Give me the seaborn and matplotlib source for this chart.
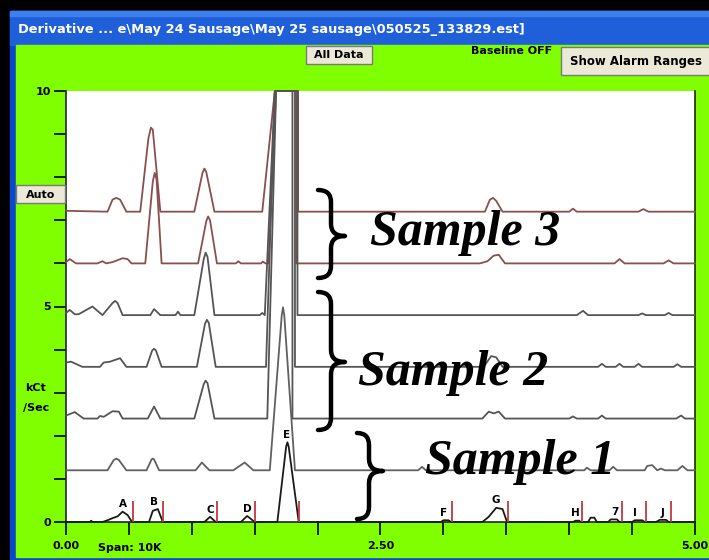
import numpy as np
import pandas as pd
import matplotlib
matplotlib.use("Agg")
import matplotlib.pyplot as plt
from matplotlib.patches import Rectangle, PathPatch
from matplotlib.path import Path
import seaborn as sns

# ---------------- data (x: time, y: kCt/Sec relative to trace baseline) ----------------
FULL_SCALE = 10.0

trace_names = ["s3_top", "s3_low", "s2_top", "s2_mid", "s2_low", "s1_top", "s1_low"]
trace_offsets = [7.2, 6.0, 4.8, 3.6, 2.4, 1.2, 0.0]

s3_top_x = [0.00, 0.01, 0.33, 0.37, 0.40, 0.43, 0.48, 0.59, 0.655, 0.675, 0.69, 0.75, 1.02, 1.085, 1.10, 1.115, 1.18,
            1.56, 1.66, 1.845, 1.845, 3.33, 3.37, 3.395, 3.42, 3.47, 4.00, 4.03, 4.06, 4.55, 4.59, 4.63, 5.00]
s3_top_y = [0.03, 0.02, 0.00, 0.28, 0.32, 0.28, 0.00, 0.00, 1.70, 1.95, 1.90, 0.00, 0.00, 0.90, 1.00, 0.92, 0.00,
            0.00, 9.0, 9.0, 0.00, 0.00, 0.28, 0.32, 0.25, 0.00, 0.00, 0.07, 0.00, 0.00, 0.06, 0.00, 0.00]

s3_low_x = [0.00, 0.03, 0.08, 0.25, 0.29, 0.32, 0.37, 0.45, 0.49, 0.52, 0.63, 0.69, 0.705, 0.72, 0.76, 1.05, 1.115,
            1.13, 1.145, 1.20, 1.35, 1.37, 1.39, 1.55, 1.565, 1.585, 1.61, 1.67, 1.83, 1.83, 3.29, 3.35, 3.40, 3.44,
            3.49, 4.36, 4.40, 4.44, 4.75, 4.79, 4.83, 5.00]
s3_low_y = [0.03, 0.10, 0.00, 0.00, 0.05, 0.00, 0.03, 0.12, 0.10, 0.00, 0.00, 1.90, 2.10, 1.95, 0.00, 0.00, 0.98,
            1.09, 1.00, 0.00, 0.00, 0.05, 0.00, 0.00, 0.04, 0.00, 0.00, 9.0, 9.0, 0.00, 0.00, 0.05, 0.18, 0.20,
            0.00, 0.00, 0.10, 0.00, 0.00, 0.07, 0.00, 0.00]

s2_top_x = [0.00, 0.03, 0.07, 0.10, 0.21, 0.29, 0.37, 0.39, 0.41, 0.45, 0.67, 0.70, 0.75, 0.87, 0.89, 0.91, 1.02,
            1.095, 1.11, 1.125, 1.18, 1.54, 1.56, 1.58, 1.66, 1.84, 1.84, 4.06, 4.11, 4.15, 4.55, 4.58, 4.61, 4.76,
            4.79, 4.82, 5.00]
s2_top_y = [0.05, 0.12, 0.02, 0.02, 0.20, 0.00, 0.28, 0.33, 0.28, 0.00, 0.00, 0.14, 0.00, 0.00, 0.08, 0.00, 0.00,
            1.30, 1.45, 1.35, 0.00, 0.00, 0.05, 0.00, 9.0, 9.0, 0.00, 0.00, 0.10, 0.00, 0.00, 0.04, 0.00, 0.00,
            0.05, 0.00, 0.00]

s2_mid_x = [0.00, 0.04, 0.13, 0.27, 0.30, 0.35, 0.43, 0.48, 0.64, 0.685, 0.70, 0.715, 0.76, 1.04, 1.105, 1.12, 1.135,
            1.19, 1.59, 1.66, 1.82, 1.82, 3.32, 3.38, 3.42, 3.47, 4.23, 4.26, 4.29, 4.37, 4.40, 4.43, 4.52, 4.55,
            4.58, 4.83, 4.86, 4.89, 5.00]
s2_mid_y = [0.10, 0.12, 0.00, 0.00, 0.10, 0.12, 0.20, 0.00, 0.00, 0.38, 0.42, 0.38, 0.00, 0.00, 1.00, 1.09, 1.02,
            0.00, 0.00, 9.0, 9.0, 0.00, 0.00, 0.25, 0.22, 0.00, 0.00, 0.07, 0.00, 0.00, 0.07, 0.00, 0.00, 0.07,
            0.00, 0.00, 0.06, 0.00, 0.00]

s2_low_x = [0.00, 0.07, 0.14, 0.25, 0.27, 0.30, 0.37, 0.42, 0.45, 0.65, 0.70, 0.75, 1.02, 1.095, 1.11, 1.125, 1.18,
            1.60, 1.67, 1.80, 1.80, 3.31, 3.36, 3.40, 3.44, 3.49, 4.00, 4.03, 4.06, 4.23, 4.26, 4.29, 4.85, 4.89,
            4.92, 5.00]
s2_low_y = [0.07, 0.15, 0.00, 0.00, 0.06, 0.04, 0.17, 0.16, 0.00, 0.00, 0.28, 0.00, 0.00, 0.80, 0.88, 0.82, 0.00,
            0.00, 9.0, 9.0, 0.00, 0.00, 0.16, 0.12, 0.16, 0.00, 0.00, 0.05, 0.00, 0.00, 0.07, 0.00, 0.00, 0.07,
            0.00, 0.00]

s1_top_x = [0.00, 0.33, 0.38, 0.40, 0.42, 0.48, 0.64, 0.68, 0.69, 0.70, 0.74, 1.03, 1.08, 1.14, 1.33, 1.42, 1.49,
            1.62, 1.715, 1.725, 1.735, 1.82, 2.80, 2.83, 2.86, 4.12, 4.14, 4.17, 4.32, 4.35, 4.38, 4.60, 4.62, 4.66,
            4.70, 4.73, 4.76, 4.86, 4.90, 4.94, 5.00]
s1_top_y = [0.00, 0.00, 0.24, 0.27, 0.24, 0.00, 0.00, 0.25, 0.27, 0.25, 0.00, 0.00, 0.18, 0.00, 0.00, 0.18, 0.00,
            0.00, 3.60, 3.78, 3.60, 0.00, 0.00, 0.08, 0.00, 0.00, 0.06, 0.00, 0.00, 0.08, 0.00, 0.00, 0.10, 0.12,
            0.00, 0.04, 0.00, 0.00, 0.10, 0.00, 0.00]

s1_low_x = [0.00, 0.19, 0.20, 0.21, 0.29, 0.33, 0.37, 0.41, 0.45, 0.49, 0.525, 0.66, 0.69, 0.73, 0.75, 0.77, 1.10,
            1.145, 1.19, 1.39, 1.44, 1.50, 1.68, 1.75, 1.76, 1.77, 1.85, 2.98, 3.00, 3.04, 3.06, 3.31, 3.36, 3.42,
            3.47, 3.50, 3.51, 4.03, 4.05, 4.08, 4.09, 4.15, 4.17, 4.20, 4.22, 4.31, 4.33, 4.38, 4.40, 4.50, 4.52,
            4.58, 4.60, 4.69, 4.72, 4.77, 4.79, 5.00]
s1_low_y = [0.00, 0.00, 0.03, 0.00, 0.00, 0.04, 0.09, 0.13, 0.24, 0.16, 0.00, 0.00, 0.26, 0.30, 0.15, 0.00, 0.00,
            0.12, 0.00, 0.00, 0.14, 0.00, 0.00, 1.75, 1.85, 1.75, 0.00, 0.00, 0.04, 0.04, 0.00, 0.00, 0.12, 0.33,
            0.30, 0.05, 0.00, 0.00, 0.03, 0.03, 0.00, 0.00, 0.10, 0.10, 0.00, 0.00, 0.06, 0.06, 0.00, 0.00, 0.04,
            0.04, 0.00, 0.00, 0.05, 0.05, 0.00, 0.00]

# peak table on the lowest trace
peak_names = ["A", "B", "C", "D", "E", "F", "G", "H", "7", "I", "J"]
peak_x = [0.45, 0.70, 1.145, 1.44, 1.757, 3.005, 3.42, 4.05, 4.36, 4.52, 4.74]
peak_height = [0.24, 0.30, 0.12, 0.14, 1.85, 0.04, 0.33, 0.03, 0.06, 0.04, 0.05]
window_end = [0.533, 0.771, 1.20, 1.502, 1.852, 3.068, 3.514, 4.102, 4.42, 4.61, 4.81]
window_marker_height = 0.48

x_ticks = [0.0, 0.5, 1.0, 1.5, 2.0, 2.5, 3.0, 3.5, 4.0, 4.5, 5.0]
x_tick_labels = ["0.00", "", "", "", "", "2.50", "", "", "", "", "5.00"]
y_ticks = list(range(0, 11))
y_tick_labels = ["0", "", "", "", "", "5", "", "", "", "", "10"]

title_text = "Derivative ... e\\May 24 Sausage\\May 25 sausage\\050525_133829.est]"

# ---------------- styling ----------------
sns.set_style("white")
plt.rcParams["font.family"] = ["DejaVu Sans"]
plt.rcParams["text.color"] = "black"
plt.rcParams["xtick.color"] = "black"
plt.rcParams["ytick.color"] = "black"
plt.rcParams["xtick.labelcolor"] = "black"
plt.rcParams["ytick.labelcolor"] = "black"

BROWN = "#8a4f4f"
GRAY = "#555555"
colors = [BROWN, BROWN, GRAY, GRAY, GRAY, "#606060", "#1a1a1a"]
GREEN = "#80ff00"

W, H = 709, 560
fig = plt.figure(figsize=(W / 100, H / 100), dpi=100)

# background (pixel coordinates)
bg = fig.add_axes([0, 0, 1, 1], zorder=0)
bg.set_xlim(0, W); bg.set_ylim(H, 0); bg.axis("off")
bg.add_patch(Rectangle((0, 0), W, H, color="black"))
bg.add_patch(Rectangle((10, 11), W - 10, H - 11, color="#0b47c9"))
bg.add_patch(Rectangle((10, 11), W - 10, 34, color="#1f5fd9"))
bg.add_patch(Rectangle((10, 11), W - 10, 5, color="#3d80ee"))
bg.add_patch(Rectangle((16, 45), W - 16, H - 48, color=GREEN))

# main chart
ax = fig.add_axes([66 / W, 1 - 522 / H, (695 - 66) / W, (522 - 91) / H], zorder=1)
ax.set_facecolor("white")

for name, off, col in zip(trace_names, trace_offsets, colors):
    xs = globals()[name + "_x"]
    ys = np.minimum(np.asarray(globals()[name + "_y"]) + off, FULL_SCALE)
    df = pd.DataFrame({"x": xs, "y": ys})
    sns.lineplot(data=df, x="x", y="y", color=col, lw=1.3, estimator=None, sort=False,
                 ax=ax, clip_on=False, zorder=3)

ax.vlines(window_end, 0, window_marker_height, color="#c0393b", lw=1.3, zorder=4)
for nm, px_, ph in zip(peak_names, peak_x, peak_height):
    ax.text(px_, ph + 0.17, nm, ha="center", va="center", fontsize=7.5, fontweight="bold",
            color="black", zorder=5)

ax.set_xlim(0, 5)
ax.set_ylim(0, 10)
ax.set_xticks(x_ticks)
ax.set_xticklabels(x_tick_labels)
ax.set_yticks(y_ticks)
ax.set_yticklabels(y_tick_labels)
ax.set_xlabel(""); ax.set_ylabel("")
ax.tick_params(axis="both", which="both", direction="out", length=9, width=1.2, color="black",
               labelcolor="black", labelsize=8, pad=2, left=True, bottom=True)
for lab in ax.get_xticklabels() + ax.get_yticklabels():
    lab.set_fontweight("bold")
ax.tick_params(axis="x", pad=5)
ax.spines["top"].set_visible(False)
for s in ["left", "bottom", "right"]:
    ax.spines[s].set_color("#222222")
    ax.spines[s].set_linewidth(1.2)

# overlay (pixel coordinates)
ov = fig.add_axes([0, 0, 1, 1], zorder=2)
ov.set_xlim(0, W); ov.set_ylim(H, 0); ov.axis("off"); ov.patch.set_visible(False)

ov.text(18, 30, title_text, color="white", fontsize=9.4, fontweight="bold", va="center", ha="left")


def button(x0, y0, w, h, label, fs=8):
    ov.add_patch(Rectangle((x0, y0), w, h, facecolor="#ece9d8", edgecolor="#7a7a7a", lw=1))
    ov.text(x0 + w / 2, y0 + h / 2 + 0.5, label, ha="center", va="center", fontsize=fs,
            fontweight="bold", color="black")


button(306, 46, 66, 18, "All Data")
button(561, 47, 150, 28, "Show Alarm Ranges", fs=8.5)
button(16, 185, 49, 18, "Auto")
ov.text(512, 51, "Baseline OFF", ha="center", va="center", fontsize=8, fontweight="bold", color="black")
ov.text(36, 388, "kCt", ha="center", va="center", fontsize=8, fontweight="bold", color="black")
ov.text(36, 408, "/Sec", ha="center", va="center", fontsize=8, fontweight="bold", color="black")
ov.text(130, 548, "Span: 10K", ha="center", va="center", fontsize=8, fontweight="bold", color="black")


def brace(xl, xm, xt, y0, ymid, y1, r=12):
    verts = [(xl, y0), (xm, y0), (xm, y0 + r), (xm, ymid - r), (xm, ymid), (xt, ymid),
             (xm, ymid), (xm, ymid + r), (xm, y1 - r), (xm, y1), (xl, y1)]
    codes = [Path.MOVETO, Path.CURVE3, Path.CURVE3, Path.LINETO, Path.CURVE3, Path.CURVE3,
             Path.CURVE3, Path.CURVE3, Path.LINETO, Path.CURVE3, Path.CURVE3]
    ov.add_patch(PathPatch(Path(verts, codes), facecolor="none", edgecolor="black", lw=3.2,
                           capstyle="round", joinstyle="round"))


brace(318, 331, 345, 190, 236, 278)
brace(318, 331, 345, 292, 362, 430)
brace(357, 369, 383, 433, 471, 519)

serif = dict(family=["Liberation Serif", "DejaVu Serif"], fontsize=36, fontweight="bold", style="italic",
             ha="left", va="baseline", color="black")
ov.text(370, 245, "Sample 3", **serif)
ov.text(358, 385, "Sample 2", **serif)
ov.text(425, 474, "Sample 1", **serif)

fig.savefig("out.png", dpi=100, facecolor="black")
